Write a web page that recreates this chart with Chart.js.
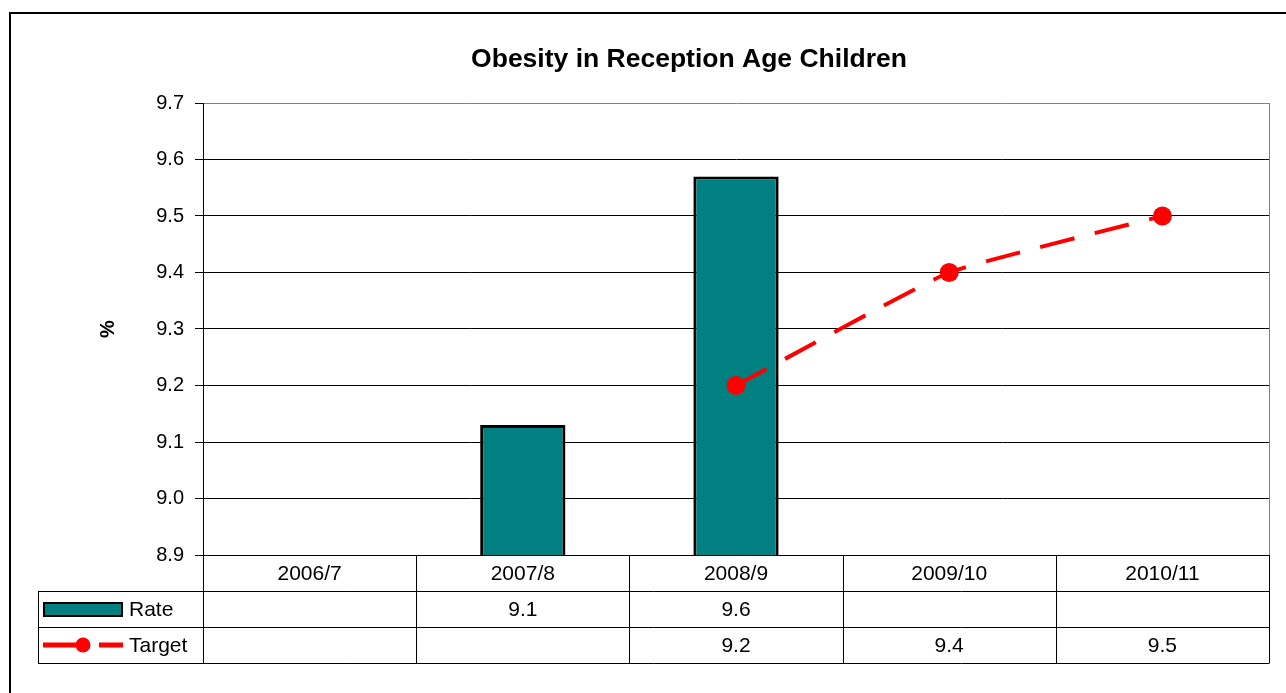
<!DOCTYPE html>
<html>
<head>
<meta charset="utf-8">
<title>Obesity in Reception Age Children</title>
<script src="https://cdn.jsdelivr.net/npm/chart.js@4/dist/chart.umd.min.js"></script>
<style>
  html, body { margin: 0; padding: 0; background: #ffffff; }
  #wrap { width: 1286px; height: 693px; position: relative; }
</style>
</head>
<body>
<div id="wrap"><canvas id="chart"></canvas></div>
<script>
// ---- Data ----
const categories = ['2006/7', '2007/8', '2008/9', '2009/10', '2010/11'];
const rateValues = [null, 9.13, 9.57, null, null];
const targetValues = [null, null, 9.2, 9.4, 9.5];
const seriesNames = ['Rate', 'Target'];
const yMin = 8.9;
const yMax = 9.7;
const yStep = 0.1;
const chartTitle = 'Obesity in Reception Age Children';
const yAxisTitle = '%';

// ---- Styles ----
const FONT = "'Liberation Sans', Arial, Helvetica, sans-serif";
const TEAL = '#008080';
const RED = '#ff0000';

function fmt(v) { return (v === null || v === undefined) ? '' : v.toFixed(1); }

const frameAndTable = {
  id: 'frameAndTable',
  beforeDraw(chart) {
    const ctx = chart.ctx;
    ctx.save();
    ctx.fillStyle = '#ffffff';
    ctx.fillRect(0, 0, chart.width, chart.height);
    ctx.strokeStyle = '#000000';
    ctx.lineWidth = 2;
    ctx.strokeRect(10, 13, chart.width + 40, chart.height + 40);
    ctx.restore();
  },
  afterDraw(chart) {
    const ctx = chart.ctx;
    const ca = chart.chartArea;
    const xs = chart.scales.x;
    const n = categories.length;
    const colW = (ca.right - ca.left) / n;
    const rowH = 36;
    const top = Math.round(ca.bottom);
    const legendLeft = 38;
    const px = v => Math.round(v) + 0.5;

    ctx.save();
    // plot area border (gray) on the right
    ctx.strokeStyle = '#808080';
    ctx.lineWidth = 1;
    ctx.beginPath();
    ctx.moveTo(px(ca.right), Math.round(ca.top));
    ctx.lineTo(px(ca.right), top);
    ctx.stroke();

    // table grid
    ctx.strokeStyle = '#000000';
    ctx.lineWidth = 1;
    ctx.beginPath();
    for (let i = 0; i <= n; i++) {
      const x = px(ca.left + i * colW);
      ctx.moveTo(x, top);
      ctx.lineTo(x, top + rowH * 3);
    }
    ctx.moveTo(px(legendLeft), top + rowH);
    ctx.lineTo(px(legendLeft), top + rowH * 3);
    for (let r = 1; r <= 3; r++) {
      const y = px(top + r * rowH);
      ctx.moveTo(legendLeft, y);
      ctx.lineTo(ca.right + 0.5, y);
    }
    ctx.stroke();

    // text
    ctx.fillStyle = '#000000';
    ctx.font = '21px ' + FONT;
    ctx.textAlign = 'center';
    ctx.textBaseline = 'middle';
    const rows = [categories, rateValues.map(fmt), targetValues.map(fmt)];
    rows.forEach((row, r) => {
      row.forEach((txt, i) => {
        if (!txt) return;
        const cx = xs.getPixelForValue(i);
        ctx.fillText(txt, cx, top + r * rowH + rowH / 2 + 1);
      });
    });

    // legend keys
    const yRate = top + rowH + rowH / 2;
    const yTarget = top + 2 * rowH + rowH / 2;
    ctx.fillStyle = TEAL;
    ctx.fillRect(44, yRate - 6, 78, 13);
    ctx.strokeStyle = '#000000';
    ctx.lineWidth = 2;
    ctx.strokeRect(44, yRate - 6, 78, 13);

    ctx.strokeStyle = RED;
    ctx.lineWidth = 5;
    ctx.beginPath();
    ctx.moveTo(43, yTarget);
    ctx.lineTo(83, yTarget);
    ctx.moveTo(99, yTarget);
    ctx.lineTo(123, yTarget);
    ctx.stroke();
    ctx.fillStyle = RED;
    ctx.beginPath();
    ctx.arc(83, yTarget, 7.5, 0, Math.PI * 2);
    ctx.fill();

    ctx.fillStyle = '#000000';
    ctx.textAlign = 'left';
    ctx.fillText(seriesNames[0], 129, yRate + 1);
    ctx.fillText(seriesNames[1], 129, yTarget + 1);
    ctx.restore();
  }
};

new Chart(document.getElementById('chart'), {
  type: 'bar',
  data: {
    labels: categories,
    datasets: [
      {
        type: 'line',
        label: seriesNames[1],
        data: targetValues,
        order: 0,
        borderColor: RED,
        borderWidth: 4,
        borderDash: [35, 21],
        borderCapStyle: 'butt',
        tension: 0.12,
        fill: false,
        pointRadius: 9.5,
        pointBackgroundColor: RED,
        pointBorderColor: RED,
        pointBorderWidth: 0
      },
      {
        type: 'bar',
        label: seriesNames[0],
        data: rateValues,
        order: 1,
        backgroundColor: TEAL,
        borderColor: '#000000',
        borderWidth: 3,
        borderSkipped: false,
        categoryPercentage: 1.0,
        barPercentage: 0.4
      }
    ]
  },
  options: {
    responsive: true,
    maintainAspectRatio: false,
    animation: false,
    events: [],
    layout: { padding: { left: 109, right: 17, top: 0, bottom: 138 } },
    plugins: {
      legend: { display: false },
      tooltip: { enabled: false },
      title: {
        display: true,
        text: chartTitle,
        color: '#000000',
        font: { family: FONT, size: 26.5, weight: 'bold', lineHeight: 1.2 },
        padding: { top: 44.1, bottom: 27.1 }
      }
    },
    scales: {
      x: {
        type: 'category',
        offset: true,
        grid: { display: false, drawTicks: false },
        ticks: { display: false },
        border: { display: true, color: '#000000', width: 1 },
        afterFit(s) { s.height = 0; }
      },
      y: {
        min: yMin,
        max: yMax,
        ticks: {
          stepSize: yStep,
          padding: 11,
          color: '#000000',
          font: { family: FONT, size: 20 },
          callback: v => Number(v).toFixed(1)
        },
        grid: {
          color: c => (c.tick && c.tick.value > yMax - yStep / 2) ? '#808080' : '#000000',
          tickColor: '#000000',
          tickLength: 8,
          lineWidth: 1
        },
        border: { display: true, color: '#000000', width: 1 },
        title: {
          display: true,
          text: yAxisTitle,
          color: '#000000',
          font: { family: FONT, size: 20, weight: 'bold', lineHeight: 1.2 },
          padding: { top: -13, bottom: 0 }
        },
        afterFit(s) { s.width = 94; }
      }
    }
  },
  plugins: [frameAndTable]
});
</script>
</body>
</html>
